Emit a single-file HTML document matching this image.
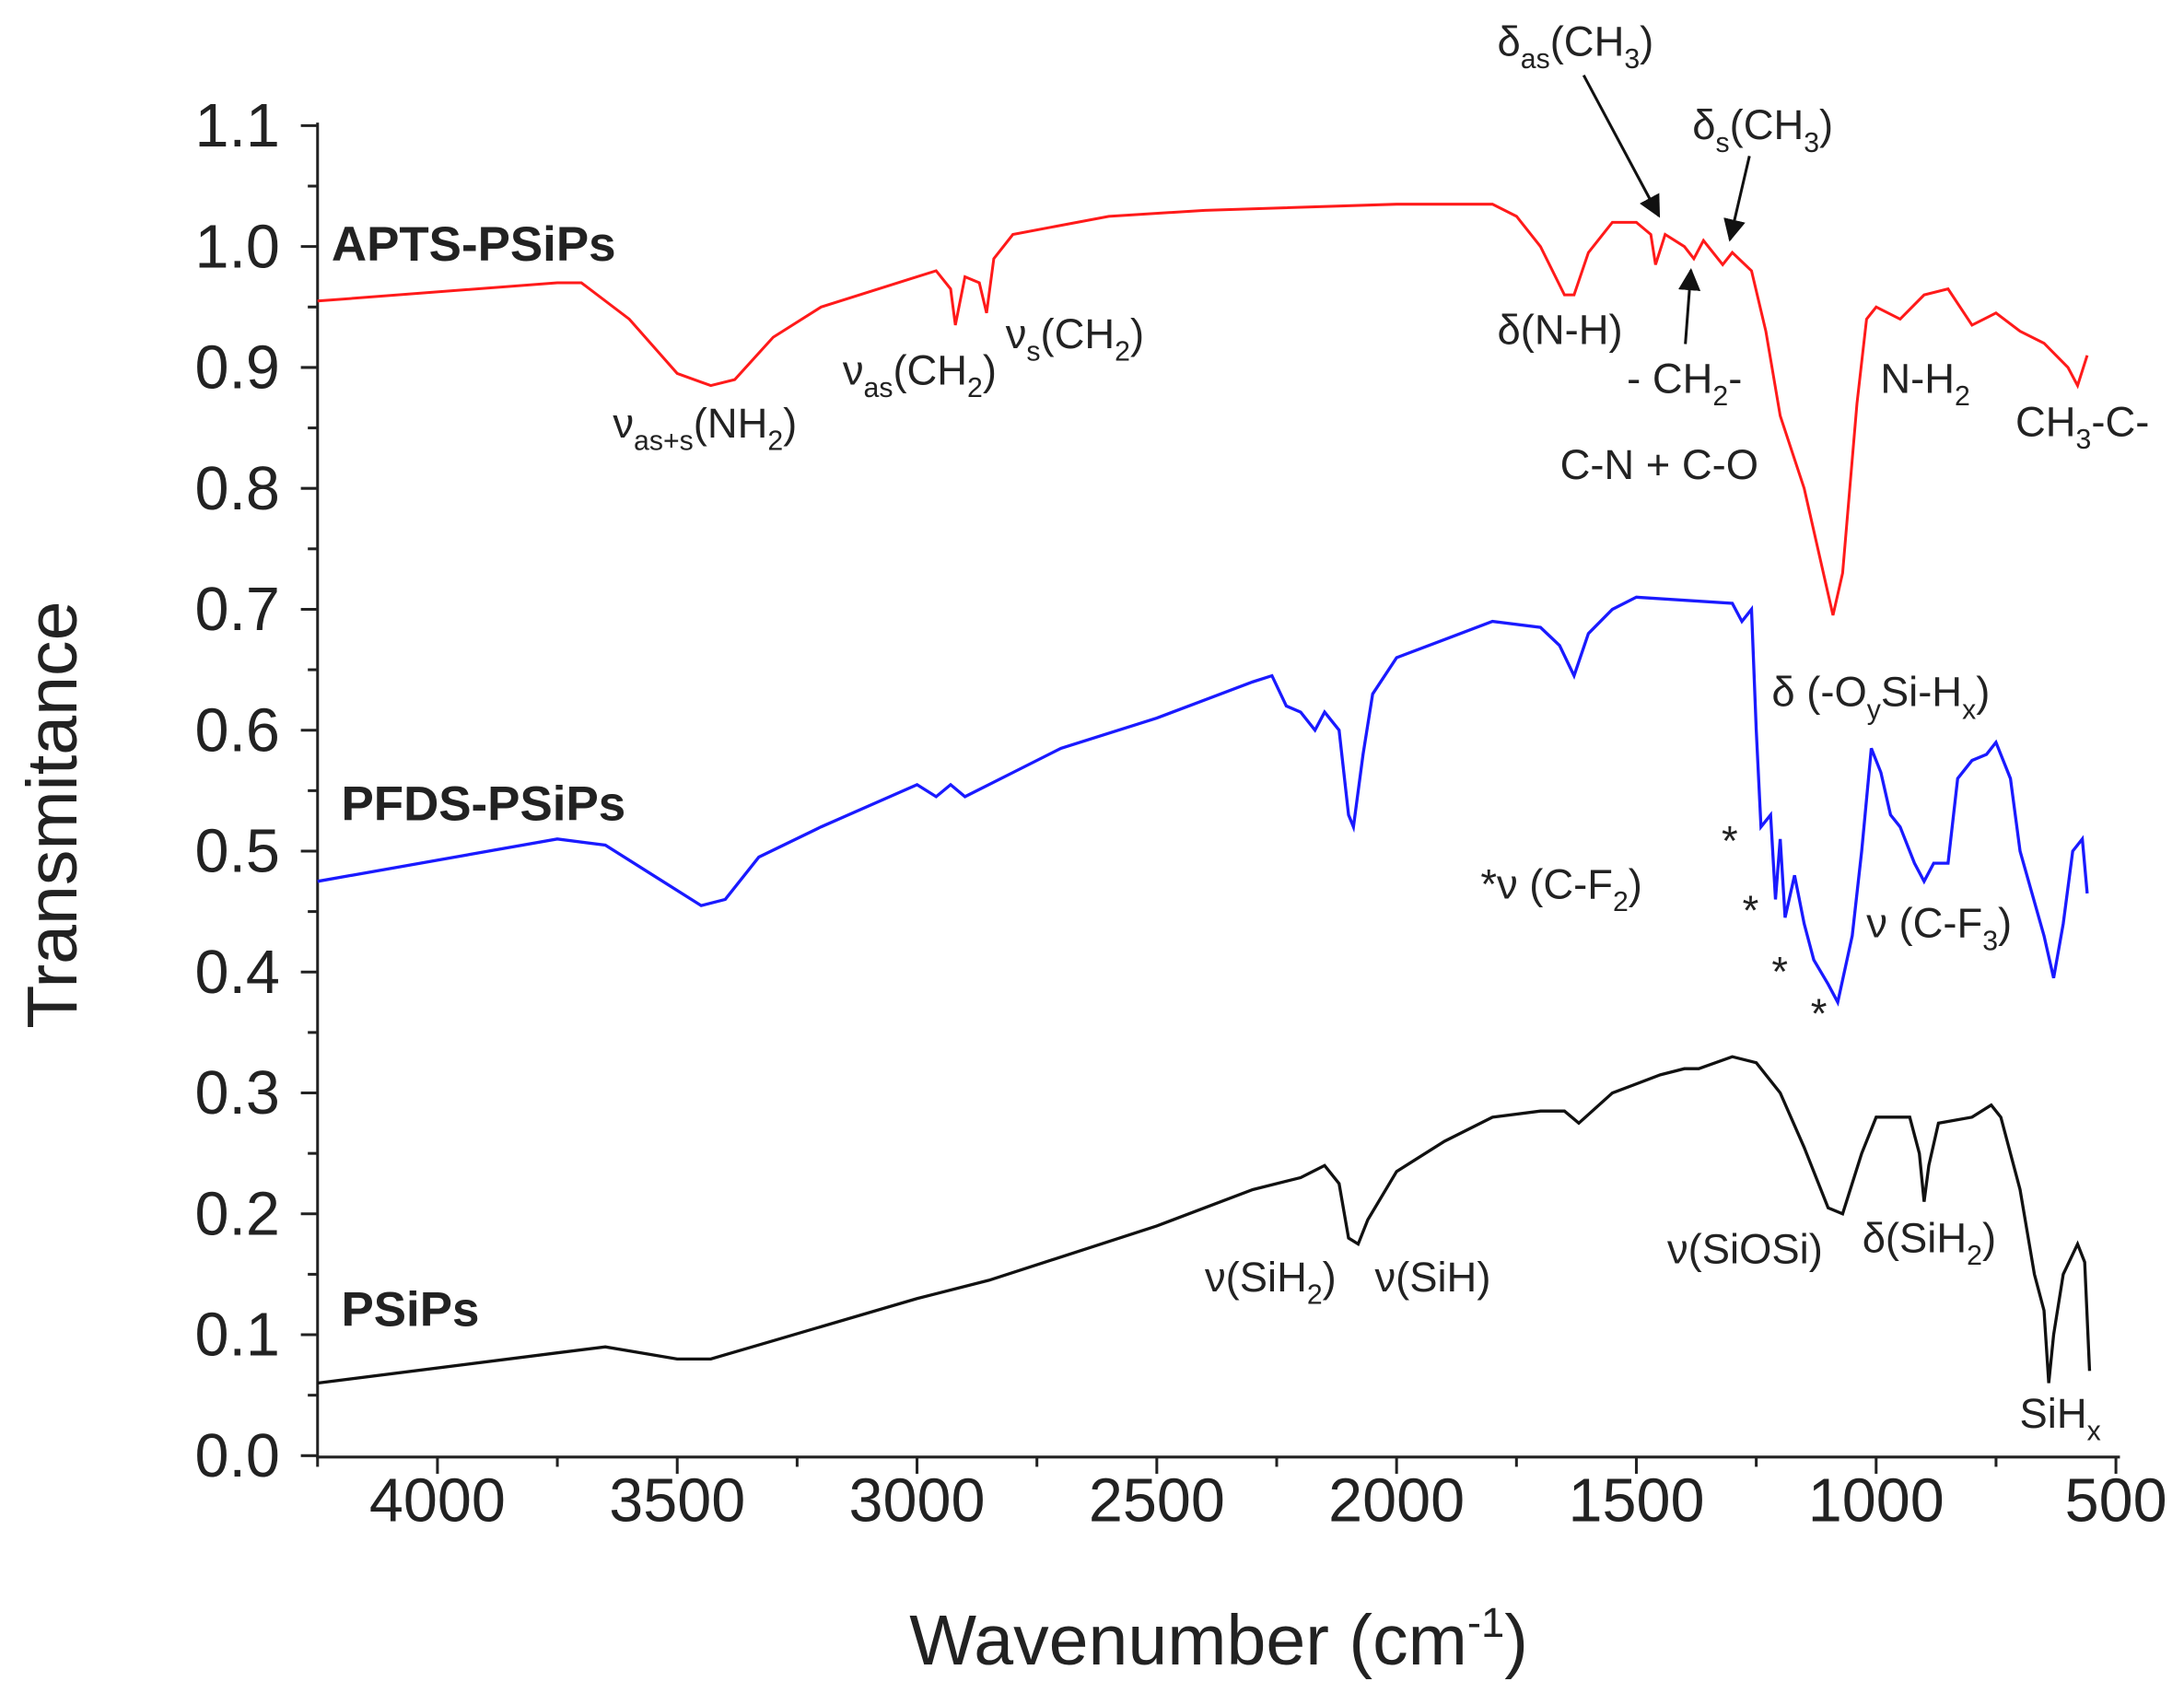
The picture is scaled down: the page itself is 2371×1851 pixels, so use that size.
<!DOCTYPE html>
<html><head><meta charset="utf-8"><style>
html,body{margin:0;padding:0;background:#fff;}
svg{display:block;}
text{font-family:"Liberation Sans","DejaVu Sans",sans-serif;fill:#222;}
.t{font-size:44px;}
.a{font-size:30px;}
.s{font-size:20px;}
.b{font-size:35px;font-weight:bold;}
</style></head><body>
<svg id="c" width="2371" height="1851" viewBox="0 0 1568 1224" preserveAspectRatio="none" xmlns="http://www.w3.org/2000/svg">
<defs>
<marker id="ah" viewBox="0 0 10 10" markerWidth="16" markerHeight="16" refX="9" refY="5" orient="auto" markerUnits="userSpaceOnUse"><path d="M0,0 L10,5 L0,10 z" fill="#111"/></marker></defs>
<g id="ax" stroke="#222" stroke-width="2" fill="none">
<line x1="228" y1="88" x2="228" y2="1046"/>
<line x1="227" y1="1046" x2="1522" y2="1046"/>
</g>
<g id="ticks"></g>
<path id="red" fill="none" stroke="#ff1a1a" stroke-width="2"/>
<path id="blue" fill="none" stroke="#1a1aff" stroke-width="2.2"/>
<path id="blk" fill="none" stroke="#111" stroke-width="2.2"/>
<text class="t" x="55" y="585" text-anchor="middle" transform="rotate(-90 55 585)" style="font-size:51px">Transmitance</text>
<text class="t" x="875" y="1195" text-anchor="middle" style="font-size:51px">Wavenumber (cm<tspan dy="-20" style="font-size:30px">-1</tspan><tspan dy="20">)</tspan></text>
<text class="b" x="238" y="187">APTS-PSiPs</text>
<text class="b" x="245" y="589">PFDS-PSiPs</text>
<text class="b" x="245" y="952">PSiPs</text>
<text class="a" x="440" y="314">ν<tspan class="s" dy="9">as+s</tspan><tspan dy="-9">(NH</tspan><tspan class="s" dy="9">2</tspan><tspan dy="-9">)</tspan></text>
<text class="a" x="605" y="276">ν<tspan class="s" dy="9">as</tspan><tspan dy="-9">(CH</tspan><tspan class="s" dy="9">2</tspan><tspan dy="-9">)</tspan></text>
<text class="a" x="722" y="250">ν<tspan class="s" dy="9">s</tspan><tspan dy="-9">(CH</tspan><tspan class="s" dy="9">2</tspan><tspan dy="-9">)</tspan></text>
<text class="a" x="1075" y="247">δ(N-H)</text>
<text class="a" x="1168" y="282">- CH<tspan class="s" dy="9">2</tspan><tspan dy="-9">-</tspan></text>
<text class="a" x="1120" y="344">C-N + C-O</text>
<text class="a" x="1350" y="282">N-H<tspan class="s" dy="9">2</tspan></text>
<text class="a" x="1447" y="313">CH<tspan class="s" dy="9">3</tspan><tspan dy="-9">-C-</tspan></text>
<text class="a" x="1075" y="40">δ<tspan class="s" dy="9">as</tspan><tspan dy="-9">(CH</tspan><tspan class="s" dy="9">3</tspan><tspan dy="-9">)</tspan></text>
<text class="a" x="1215" y="100">δ<tspan class="s" dy="9">s</tspan><tspan dy="-9">(CH</tspan><tspan class="s" dy="9">3</tspan><tspan dy="-9">)</tspan></text>
<text class="a" x="1272" y="507">δ (-O<tspan class="s" dy="9">y</tspan><tspan dy="-9">Si-H</tspan><tspan class="s" dy="9">x</tspan><tspan dy="-9">)</tspan></text>
<text class="a" x="1063" y="645">*ν (C-F<tspan class="s" dy="9">2</tspan><tspan dy="-9">)</tspan></text>
<text class="a" x="1340" y="673">ν (C-F<tspan class="s" dy="9">3</tspan><tspan dy="-9">)</tspan></text>
<text class="a" x="1236" y="614">*</text>
<text class="a" x="1251" y="664">*</text>
<text class="a" x="1272" y="708">*</text>
<text class="a" x="1300" y="738">*</text>
<text class="a" x="865" y="927">ν(SiH<tspan class="s" dy="9">2</tspan><tspan dy="-9">)</tspan></text>
<text class="a" x="987" y="927">ν(SiH)</text>
<text class="a" x="1197" y="907">ν(SiOSi)</text>
<text class="a" x="1337" y="899">δ(SiH<tspan class="s" dy="9">2</tspan><tspan dy="-9">)</tspan></text>
<text class="a" x="1450" y="1025">SiH<tspan class="s" dy="9">x</tspan></text>
<g stroke="#111" stroke-width="2">
<line x1="1137" y1="54" x2="1191" y2="155" marker-end="url(#ah)"/>
<line x1="1256" y1="112" x2="1242" y2="172" marker-end="url(#ah)"/>
<line x1="1210" y1="247" x2="1214" y2="194" marker-end="url(#ah)"/>
</g>
</svg>
<script>
const X=w=>228+(4250-w)*0.3443, Y=t=>1045-t*868;
const tk=document.getElementById('ticks');let h='';
for(let i=0;i<=11;i++){const y=Y(i/10);h+=`<line x1="228" y1="${y}" x2="216" y2="${y}" stroke="#222" stroke-width="2"/><text class="t" x="201" y="${y+15}" text-anchor="end">${(i/10).toFixed(1)}</text>`;
 if(i<11){const ym=Y(i/10+0.05);h+=`<line x1="228" y1="${ym}" x2="221" y2="${ym}" stroke="#222" stroke-width="2"/>`;}}
for(let w=500;w<=4000;w+=500){const x=X(w);h+=`<line x1="${x}" y1="1046" x2="${x}" y2="1058" stroke="#222" stroke-width="2"/><text class="t" x="${x}" y="1092" text-anchor="middle">${w}</text>`;
 const xm=X(w+250);if(w+250<=4250)h+=`<line x1="${xm}" y1="1046" x2="${xm}" y2="1053" stroke="#222" stroke-width="2"/>`;}
tk.innerHTML=h;
function P(id,a){let d='';for(let i=0;i<a.length;i+=2)d+=(i?'L':'M')+X(a[i]).toFixed(1)+','+Y(a[i+1]).toFixed(1);document.getElementById(id).setAttribute('d',d);}
P('red',[4250,.955,3750,.97,3700,.97,3600,.94,3500,.895,3430,.885,3380,.89,3300,.925,3200,.95,3000,.975,2960,.98,2930,.965,2920,.935,2900,.975,2870,.97,2855,.945,2840,.99,2800,1.01,2600,1.025,2400,1.03,2000,1.035,1800,1.035,1750,1.025,1700,1.0,1650,.96,1630,.96,1600,.995,1550,1.02,1500,1.02,1470,1.01,1460,.985,1440,1.01,1400,1.0,1380,.99,1360,1.005,1320,.985,1300,.995,1260,.98,1230,.93,1200,.86,1150,.8,1110,.73,1090,.695,1070,.73,1040,.87,1020,.94,1000,.95,950,.94,900,.96,850,.965,800,.935,750,.945,700,.93,650,.92,600,.9,580,.885,560,.91]);
P('blue',[4250,.475,3750,.51,3650,.505,3550,.48,3450,.455,3400,.46,3330,.495,3200,.52,3000,.555,2960,.545,2930,.555,2900,.545,2800,.565,2700,.585,2500,.61,2300,.64,2260,.645,2230,.62,2200,.615,2170,.6,2150,.615,2120,.6,2100,.53,2090,.52,2070,.58,2050,.63,2000,.66,1900,.675,1800,.69,1700,.685,1660,.67,1630,.645,1600,.68,1550,.7,1500,.71,1300,.705,1280,.69,1260,.7,1250,.6,1240,.52,1220,.53,1210,.46,1200,.51,1190,.445,1170,.48,1150,.44,1130,.41,1100,.39,1080,.375,1050,.43,1030,.5,1010,.585,990,.565,970,.53,950,.52,920,.49,900,.475,880,.49,850,.49,830,.56,800,.575,770,.58,750,.59,720,.56,700,.5,650,.43,630,.395,610,.44,590,.5,570,.51,560,.465]);
P('blk',[4250,.06,3750,.085,3650,.09,3500,.08,3430,.08,3300,.095,3000,.13,2850,.145,2500,.19,2300,.22,2200,.23,2150,.24,2120,.225,2100,.18,2080,.175,2060,.195,2000,.235,1900,.26,1800,.28,1700,.285,1650,.285,1620,.275,1550,.3,1450,.315,1400,.32,1370,.32,1300,.33,1250,.325,1200,.3,1150,.255,1100,.205,1070,.2,1030,.25,1000,.28,970,.28,930,.28,910,.25,900,.21,890,.24,870,.275,800,.28,760,.29,740,.28,700,.22,670,.15,650,.12,640,.06,630,.1,610,.15,580,.175,565,.16,555,.07]);
</script>
</body></html>
